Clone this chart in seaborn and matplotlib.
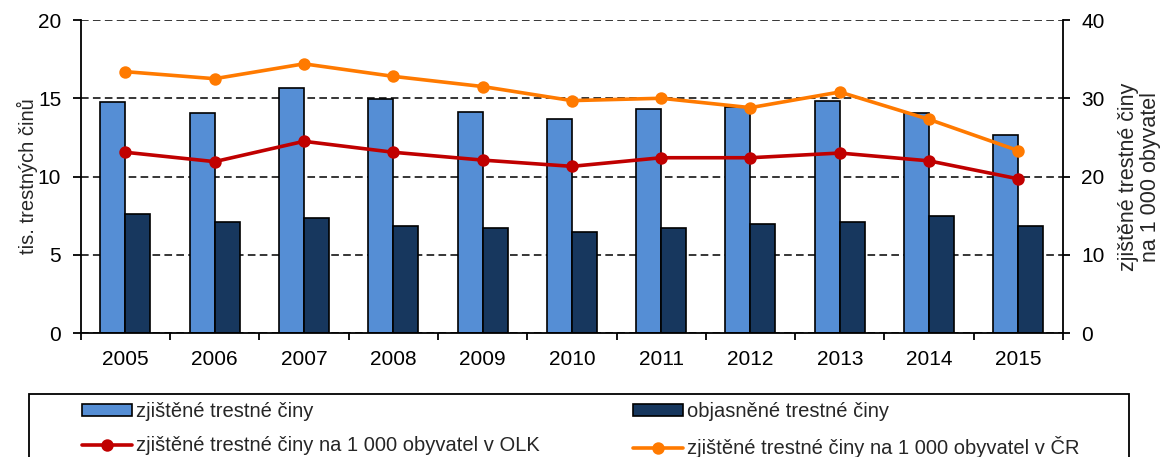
import pandas as pd
import matplotlib.pyplot as plt
import seaborn as sns
from matplotlib.patches import Rectangle
from matplotlib.ticker import FixedLocator

# data
roky = ["2005", "2006", "2007", "2008", "2009", "2010", "2011", "2012", "2013", "2014", "2015"]
zjistene = [14.78, 14.04, 15.67, 14.95, 14.14, 13.67, 14.29, 14.42, 14.82, 14.04, 12.65]
objasnene = [7.60, 7.11, 7.35, 6.84, 6.71, 6.47, 6.71, 6.96, 7.11, 7.48, 6.84]
na1000_olk = [23.1, 21.9, 24.5, 23.1, 22.1, 21.3, 22.4, 22.4, 23.0, 22.0, 19.7]
na1000_cr = [33.4, 32.5, 34.4, 32.8, 31.5, 29.7, 30.0, 28.8, 30.8, 27.3, 23.3]

lbl_zj = "zjištěné trestné činy"
lbl_obj = "objasněné trestné činy"
lbl_olk = "zjištěné trestné činy na 1 000 obyvatel v OLK"
lbl_cr = "zjištěné trestné činy na 1 000 obyvatel v ČR"

df_bary = pd.DataFrame({
    "rok": roky * 2,
    "hodnota": zjistene + objasnene,
    "typ": [lbl_zj] * len(roky) + [lbl_obj] * len(roky),
})
df_cary = pd.DataFrame({
    "rok": roky * 2,
    "hodnota": na1000_olk + na1000_cr,
    "typ": [lbl_olk] * len(roky) + [lbl_cr] * len(roky),
})

sns.set_style("white")
plt.rcParams["font.family"] = ["Liberation Sans", "DejaVu Sans"]
plt.rcParams["font.size"] = 15

fig = plt.figure(figsize=(11.61, 4.57), dpi=100)
ax = fig.add_axes([0.0695, 0.2713, 0.8461, 0.6849])

sns.barplot(data=df_bary, x="rok", y="hodnota", hue="typ",
            palette=["#558ED5", "#17375E"], saturation=1, width=0.56,
            edgecolor="black", linewidth=1.2, errorbar=None, ax=ax)

ax2 = ax.twinx()
sns.pointplot(data=df_cary, x="rok", y="hodnota", hue="typ",
              palette=["#C00000", "#FF7A00"], markers="o", linestyles="-",
              errorbar=None, dodge=False, markersize=7, linewidth=2.6, ax=ax2)

# osy
ax.set_xlim(-0.5, len(roky) - 0.5)
ax.set_ylim(0, 20)
ax.set_yticks([0, 5, 10, 15, 20])
ax2.set_ylim(0, 40)
ax2.set_yticks([0, 10, 20, 30, 40])

ax.yaxis.grid(True, color="black", linestyle=(0, (5, 2.8)), linewidth=1.1)
ax.xaxis.grid(False)
ax2.grid(False)
ax.set_axisbelow(True)

for a in (ax, ax2):
    a.spines["top"].set_visible(False)
    for s in ("left", "right", "bottom"):
        a.spines[s].set_color("black")
        a.spines[s].set_linewidth(1.3)
ax.spines["right"].set_visible(False)
ax2.spines["left"].set_visible(False)
ax2.spines["bottom"].set_visible(False)

ax.xaxis.set_minor_locator(FixedLocator([i - 0.5 for i in range(len(roky) + 1)]))
ax.tick_params(axis="x", which="major", length=0, pad=12, labelsize=15, colors="black")
ax.tick_params(axis="x", which="minor", direction="out", length=5, width=1.3,
               color="black", bottom=True)
ax.tick_params(axis="y", direction="out", length=6, width=1.3, pad=8,
               labelsize=15, colors="black", left=True)
ax2.tick_params(axis="y", direction="out", length=5, width=1.3, pad=8,
                labelsize=15, colors="black", right=True)

ax.set_xlabel("")
ax.set_ylabel("tis. trestných činů", fontsize=14.5, labelpad=0)
ax2.set_ylabel("zjištěné trestné činy\nna 1 000 obyvatel", fontsize=15.5,
               labelpad=10, linespacing=1.05)

# legenda
h1, l1 = ax.get_legend_handles_labels()
h2, l2 = ax2.get_legend_handles_labels()
ax.get_legend().remove()
ax2.get_legend().remove()
handles = [h1[0], h2[0], h1[1], h2[1]]
labels = [l1[0], l2[0], l1[1], l2[1]]
fig.legend(handles, labels, loc="upper left", ncol=2,
           bbox_to_anchor=(82 / 1161, 1 - 402 / 457),
           fontsize=14.5, frameon=False, handlelength=2.5, handleheight=0.5,
           handletextpad=0.2, labelspacing=0.75, columnspacing=4.6,
           borderpad=0, borderaxespad=0)
fig.add_artist(Rectangle((29 / 1161, -0.1), 1100 / 1161, 0.1 + 1 - 394 / 457,
                         transform=fig.transFigure, fill=False,
                         edgecolor="black", linewidth=1.3))

fig.savefig("out.png", dpi=100)
